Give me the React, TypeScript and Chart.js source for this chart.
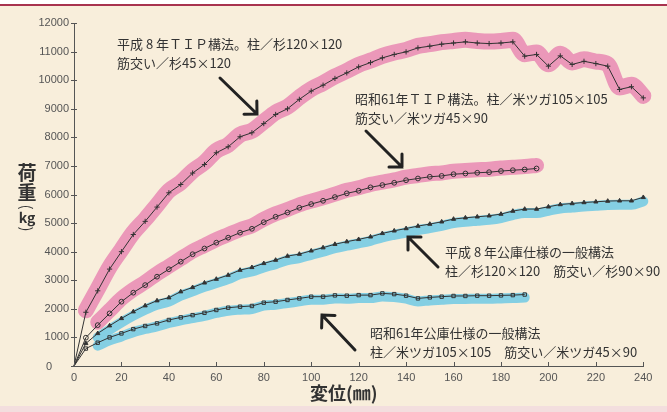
import React, { useEffect, useRef } from 'react';
import { Chart, registerables } from 'chart.js';

Chart.register(...registerables);

// displacement (mm)
const displacement = [
  0, 5, 10, 15, 20, 25, 30, 35, 40, 45, 50, 55, 60, 65, 70, 75, 80, 85, 90, 95,
  100, 105, 110, 115, 120, 125, 130, 135, 140, 145, 150, 155, 160, 165, 170, 175,
  180, 185, 190, 195, 200, 205, 210, 215, 220, 225, 230, 235, 240, 245,
];

// load (kg) — 平成8年TIP構法
const tipHeisei8 = [
  0, 1880, 2630, 3390, 4000, 4600, 5060, 5560, 6060, 6350, 6750, 7050, 7460, 7670,
  8020, 8160, 8480, 8800, 9000, 9330, 9620, 9825, 10060, 10255, 10465, 10615,
  10780, 10900, 10990, 11130, 11190, 11260, 11300, 11340, 11300, 11280, 11300,
  11340, 10840, 10900, 10490, 10850, 10550, 10660, 10580, 10490, 9675, 9770, 9380,
];

// 昭和61年TIP構法
const tipShowa61 = [
  0, 990, 1430, 1840, 2250, 2565, 2830, 3125, 3385, 3650, 3910, 4110, 4315, 4490,
  4665, 4800, 5030, 5220, 5370, 5535, 5665, 5780, 5910, 6040, 6130, 6250, 6330,
  6410, 6500, 6560, 6620, 6650, 6710, 6735, 6760, 6780, 6820, 6850, 6875, 6910,
];

// 平成8年公庫仕様の一般構法
const kokoHeisei8 = [
  0, 790, 1140, 1410, 1665, 1900, 2110, 2285, 2390, 2600, 2750, 2910, 3040, 3180,
  3355, 3450, 3590, 3705, 3845, 3915, 4030, 4140, 4260, 4350, 4430, 4520, 4640,
  4730, 4810, 4895, 4965, 5045, 5140, 5185, 5220, 5255, 5315, 5420, 5490, 5490,
  5570, 5650, 5685, 5720, 5745, 5770, 5780, 5780, 5900, 6000,
];

// 昭和61年公庫仕様の一般構法
const kokoShowa61 = [
  0, 610, 815, 1000, 1140, 1290, 1400, 1490, 1610, 1700, 1780, 1860, 1960, 2040,
  2075, 2100, 2215, 2250, 2310, 2365, 2425, 2425, 2470, 2460, 2480, 2480, 2540,
  2515, 2460, 2365, 2400, 2425, 2450, 2450, 2460, 2460, 2470, 2480, 2500,
];

const xTickValues = [0, 20, 40, 60, 80, 100, 120, 140, 160, 180, 200, 220, 240];
const yTickValues = [0, 1000, 2000, 3000, 4000, 5000, 6000, 7000, 8000, 9000, 10000, 11000, 12000];

const annotationTexts = [
  ['平成 8 年ＴＩＰ構法。柱／杉120×120', '筋交い／杉45×120'],
  ['昭和61年ＴＩＰ構法。柱／米ツガ105×105', '筋交い／米ツガ45×90'],
  ['平成 8 年公庫仕様の一般構法', '柱／杉120×120　筋交い／杉90×90'],
  ['昭和61年公庫仕様の一般構法', '柱／米ツガ105×105　筋交い／米ツガ45×90'],
];

const pts = (ys: number[]) => ys.map((y, i) => ({ x: displacement[i], y }));

const PINK = '#eb98b9';
const BLUE = '#84cfe3';
const INK = '#333333';
const CJK = '"Noto Sans CJK JP", "Noto Sans", sans-serif';
const TICKFONT = '"Liberation Sans Narrow", "Liberation Sans", "DejaVu Sans", sans-serif';

const bandPlugin = {
  id: 'bandOffset',
  beforeDatasetDraw(chart: any, args: any) {
    const ds = chart.data.datasets[args.index];
    if (ds.bandOffset !== undefined) {
      chart.ctx.save();
      chart.ctx.translate(0, ds.bandOffset);
    }
  },
  afterDatasetDraw(chart: any, args: any) {
    const ds = chart.data.datasets[args.index];
    if (ds.bandOffset !== undefined) chart.ctx.restore();
  },
};

const decorPlugin = {
  id: 'decor',
  afterDraw(chart: any) {
    const ctx: CanvasRenderingContext2D = chart.ctx;
    const xs = chart.scales.x;
    const ys = chart.scales.y;
    const { left, bottom } = chart.chartArea;
    ctx.save();
    // axis ticks crossing the axis lines
    ctx.strokeStyle = '#555';
    ctx.lineWidth = 1;
    ctx.beginPath();
    for (const v of yTickValues) {
      const y = Math.round(ys.getPixelForValue(v)) + 0.5;
      ctx.moveTo(left - 3, y);
      ctx.lineTo(left + 3, y);
    }
    for (const v of xTickValues) {
      const x = Math.round(xs.getPixelForValue(v)) + 0.5;
      ctx.moveTo(x, bottom - 4);
      ctx.lineTo(x, bottom + 1);
    }
    ctx.stroke();

    // y-axis zero label (set apart from the x-axis zero)
    ctx.fillStyle = '#555';
    ctx.font = `11px ${TICKFONT}`;
    ctx.textAlign = 'center';
    ctx.textBaseline = 'middle';
    ctx.fillText(String(yTickValues[0]), 49, ys.getPixelForValue(yTickValues[0]) + 1);

    // annotations
    ctx.fillStyle = INK;
    ctx.font = `13px ${CJK}`;
    ctx.textAlign = 'left';
    ctx.textBaseline = 'middle';
    const anchors = [
      [117, 44],
      [355, 99],
      [445, 252],
      [370, 333],
    ];
    annotationTexts.forEach((lines, i) => {
      lines.forEach((t, j) => ctx.fillText(t, anchors[i][0], anchors[i][1] + j * 19));
    });

    // arrows
    const arrows = [
      [220, 78, 257, 114],
      [366, 131, 402, 167],
      [438, 267, 408, 237],
      [355, 350, 322, 315],
    ];
    ctx.strokeStyle = '#222';
    ctx.lineWidth = 3;
    ctx.lineCap = 'round';
    ctx.lineJoin = 'miter';
    for (const [x1, y1, x2, y2] of arrows) {
      const a = Math.atan2(y2 - y1, x2 - x1);
      const h = 13;
      ctx.beginPath();
      ctx.moveTo(x1, y1);
      ctx.lineTo(x2, y2);
      ctx.moveTo(x2 - h * Math.cos(a - Math.PI / 4), y2 - h * Math.sin(a - Math.PI / 4));
      ctx.lineTo(x2, y2);
      ctx.lineTo(x2 - h * Math.cos(a + Math.PI / 4), y2 - h * Math.sin(a + Math.PI / 4));
      ctx.stroke();
    }

    // y title (vertical)
    ctx.fillStyle = INK;
    ctx.textAlign = 'center';
    ctx.textBaseline = 'middle';
    ctx.font = `bold 19px ${CJK}`;
    ctx.fillText('荷', 27, 173);
    ctx.fillText('重', 27, 193);
    ctx.font = `15px ${CJK}`;
    const rotParen = (ch: string, x: number, y: number) => {
      ctx.save();
      ctx.translate(x, y);
      ctx.rotate(Math.PI / 2);
      ctx.fillText(ch, 0, 0);
      ctx.restore();
    };
    rotParen('(', 27, 207);
    ctx.font = `bold 14px ${CJK}`;
    ctx.fillText('kg', 27, 218);
    ctx.font = `15px ${CJK}`;
    rotParen(')', 27, 229);

    // x title
    ctx.textAlign = 'left';
    ctx.font = `bold 18px ${CJK}`;
    ctx.fillText('変位(㎜)', 310, 393);
    ctx.restore();
  },
};

export default function App() {
  const ref = useRef<HTMLCanvasElement | null>(null);

  useEffect(() => {
    if (!ref.current) return;
    const lineCommon = {
      borderColor: INK,
      borderWidth: 1,
      tension: 0,
      clip: false as any,
      order: 0,
      pointBorderColor: INK,
      pointBorderWidth: 1,
      pointRadius: (c: any) => (c.dataIndex === 0 ? 0 : 2.4),
    };
    const bandCommon = {
      pointRadius: 0,
      tension: 0.4,
      cubicInterpolationMode: 'monotone' as const,
      borderCapStyle: 'round' as const,
      borderJoinStyle: 'round' as const,
      clip: false as any,
      order: 1,
    };
    const chart = new Chart(ref.current, {
      type: 'line',
      data: {
        datasets: [
          { ...lineCommon, label: '平成8年TIP構法', data: pts(tipHeisei8), pointStyle: 'cross', pointRadius: (c: any) => (c.dataIndex === 0 ? 0 : 2.6) } as any,
          { ...lineCommon, label: '昭和61年TIP構法', data: pts(tipShowa61), pointStyle: 'circle', pointBackgroundColor: 'rgba(0,0,0,0)' } as any,
          { ...lineCommon, label: '平成8年公庫仕様', data: pts(kokoHeisei8), pointStyle: 'triangle', pointBackgroundColor: INK } as any,
          { ...lineCommon, label: '昭和61年公庫仕様', data: pts(kokoShowa61), pointStyle: 'rect', pointBackgroundColor: 'rgba(0,0,0,0)' } as any,
          { ...bandCommon, label: 'band1', data: pts(tipHeisei8).slice(1), borderColor: PINK, borderWidth: 16, bandOffset: -2 } as any,
          { ...bandCommon, label: 'band2', data: pts(tipShowa61).slice(2), borderColor: PINK, borderWidth: 15, bandOffset: -3 } as any,
          { ...bandCommon, label: 'band3', data: pts(kokoHeisei8).slice(2), borderColor: BLUE, borderWidth: 10, bandOffset: 4 } as any,
          { ...bandCommon, label: 'band4', data: pts(kokoShowa61).slice(2), borderColor: BLUE, borderWidth: 10, bandOffset: 3 } as any,
        ],
      },
      options: {
        animation: false,
        responsive: false,
        maintainAspectRatio: false,
        layout: { padding: { top: 23, right: 23.7, left: 0, bottom: 0 } },
        plugins: { legend: { display: false }, tooltip: { enabled: false } },
        scales: {
          x: {
            type: 'linear',
            min: 0,
            max: 240,
            afterBuildTicks: (s: any) => { s.ticks = xTickValues.map((v) => ({ value: v })); },
            afterFit: (s: any) => { s.height = 46; },
            grid: { display: false, drawTicks: false },
            border: { display: true, color: '#555', width: 1 },
            ticks: {
              autoSkip: false,
              maxRotation: 0,
              padding: 5,
              color: '#555',
              font: { family: TICKFONT, size: 11 },
            },
          },
          y: {
            type: 'linear',
            min: 0,
            max: 12000,
            afterBuildTicks: (s: any) => { s.ticks = yTickValues.map((v) => ({ value: v })); },
            afterFit: (s: any) => { s.width = 74; },
            grid: { display: false, drawTicks: false },
            border: { display: true, color: '#555', width: 1 },
            ticks: {
              autoSkip: false,
              padding: 5,
              color: '#555',
              font: { family: TICKFONT, size: 11 },
              callback: (v: any) => (v === 0 ? '' : String(v)),
            },
          },
        },
      } as any,
      plugins: [bandPlugin, decorPlugin],
    });
    return () => chart.destroy();
  }, []);

  return (
    <div
      style={{
        position: 'fixed',
        left: 0,
        top: 0,
        width: 667,
        height: 412,
        background: 'linear-gradient(#ffffff 0 4px, #a8334f 4px 6px, #f8eedb 6px 406px, #f3dede 406px)',
      }}
    >
      <canvas ref={ref} width={667} height={412} style={{ position: 'absolute', left: 0, top: 0, width: 667, height: 412 }} />
    </div>
  );
}
